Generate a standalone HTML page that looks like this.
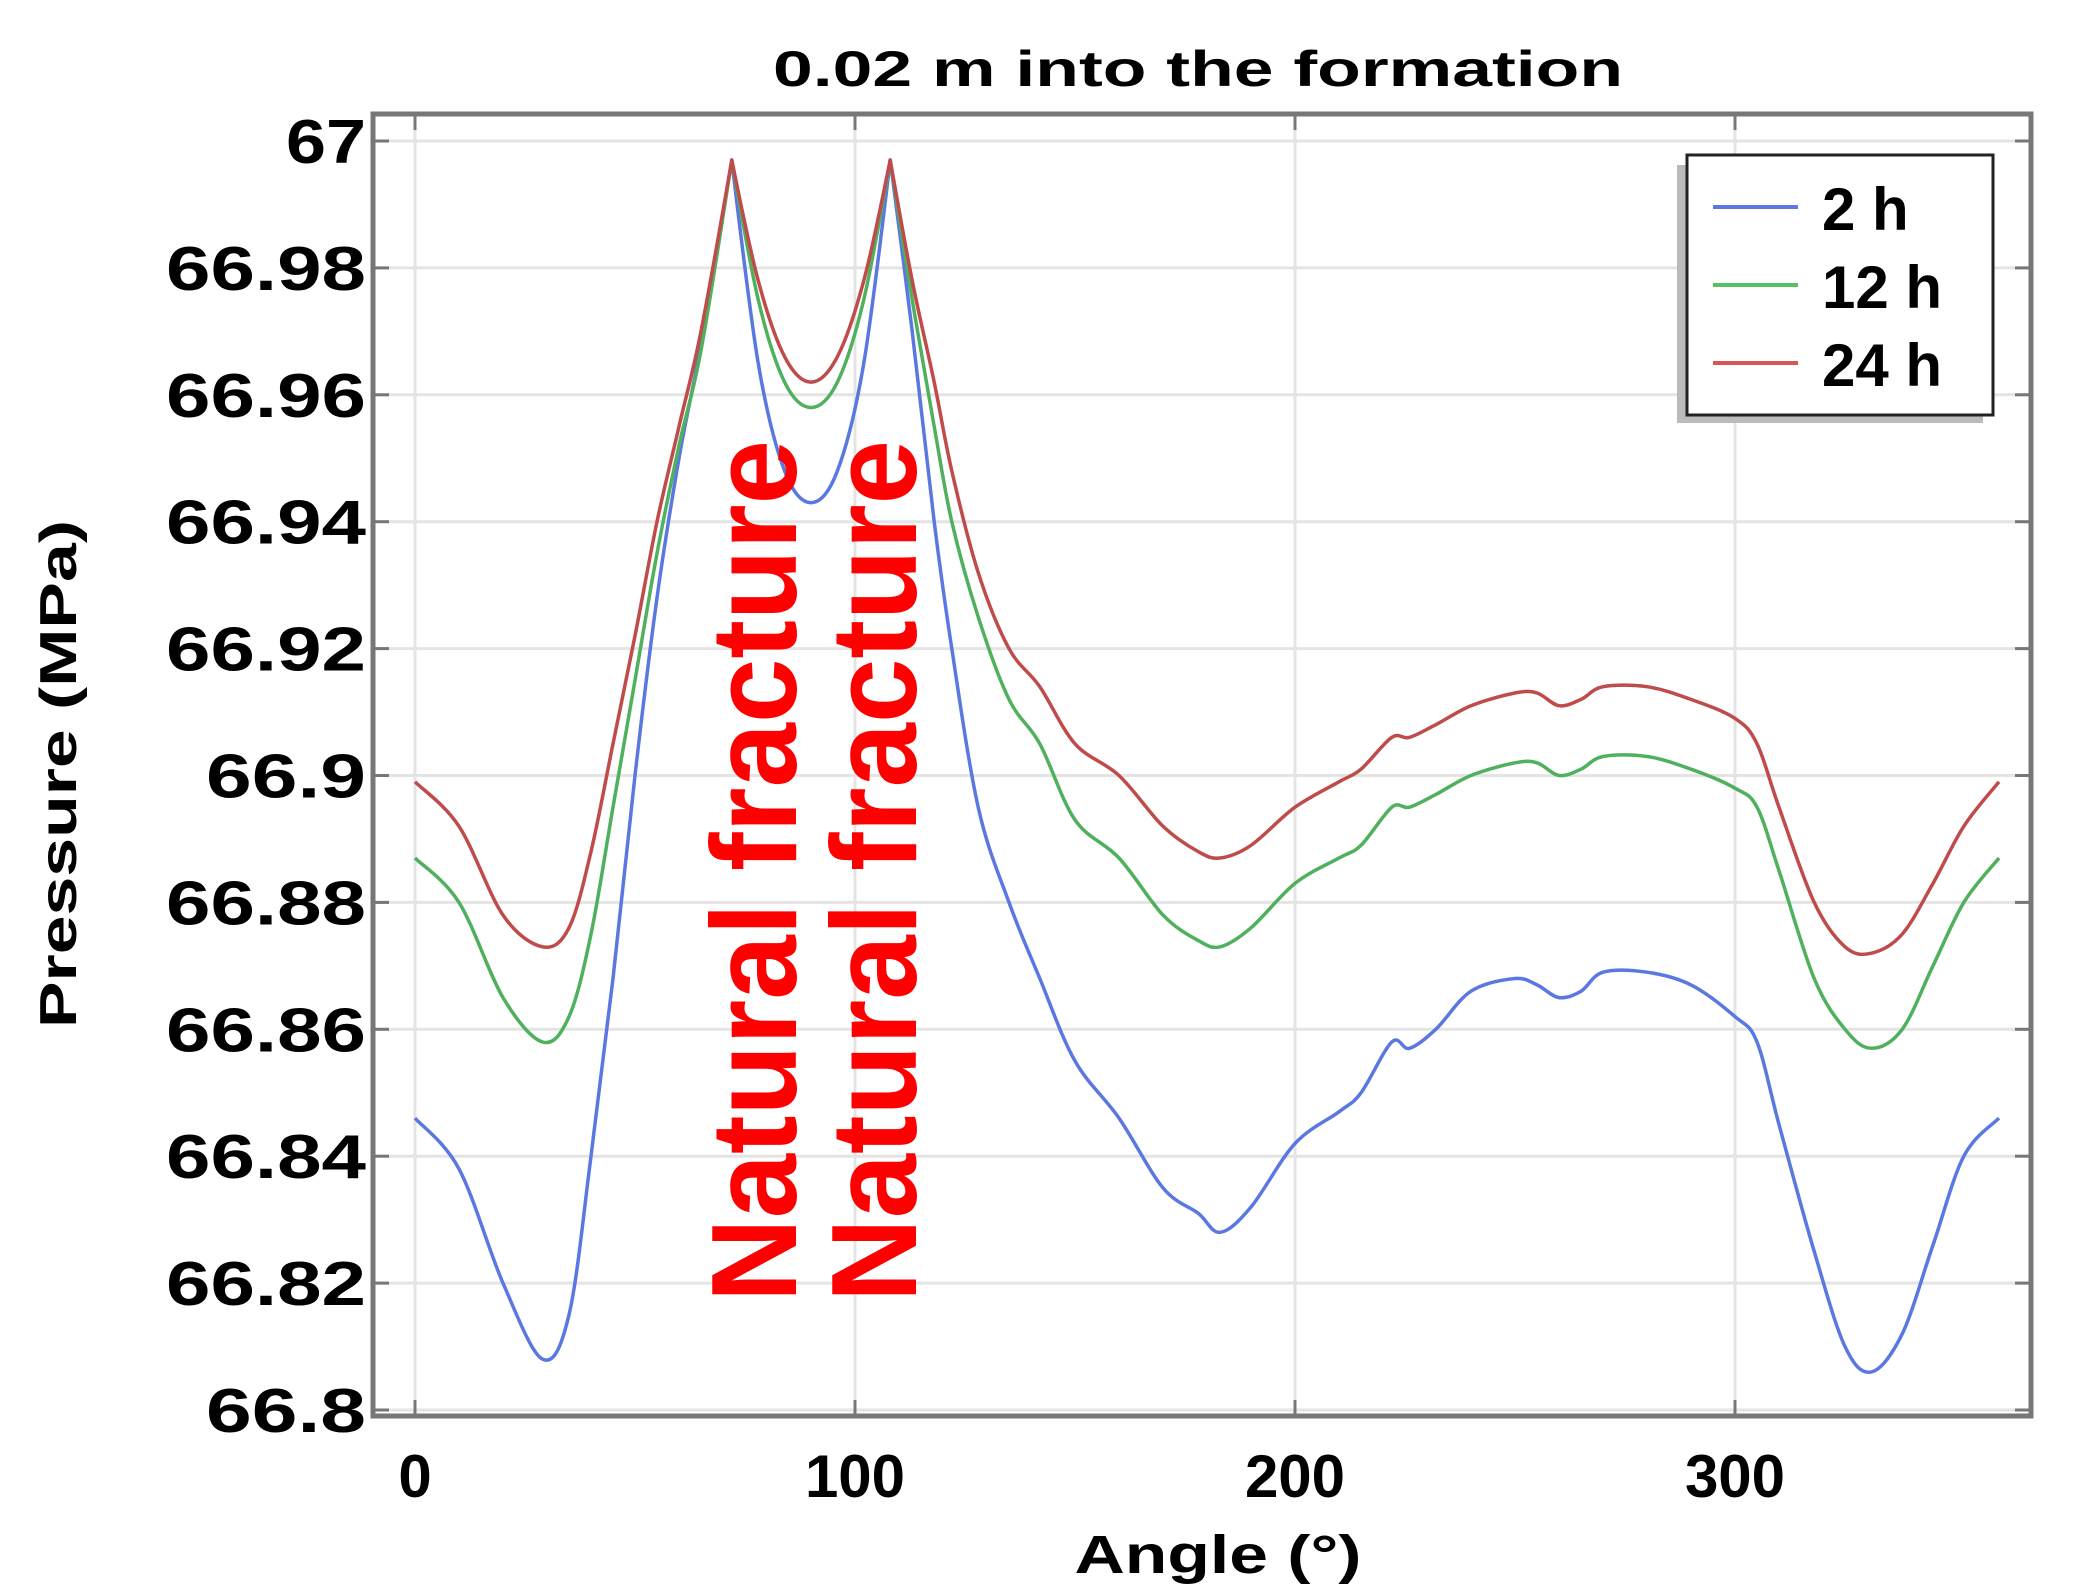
<!DOCTYPE html>
<html><head><meta charset="utf-8"><style>
html,body{margin:0;padding:0;background:#fff;}
svg{display:block;}
text{font-family:"Liberation Sans",Arial,sans-serif;font-weight:bold;}
</style></head><body>
<svg id="chart" width="2073" height="1596" viewBox="0 0 2073 1596" xmlns="http://www.w3.org/2000/svg">
<text x="1198" y="86" font-size="50" text-anchor="middle" textLength="850" lengthAdjust="spacingAndGlyphs">0.02 m into the formation</text>
<g id="grid"></g>
<g id="axes"></g>
<g id="series"></g>
<text transform="translate(796,1302) rotate(-90)" font-size="122" fill="#ff0000" textLength="862" lengthAdjust="spacingAndGlyphs">Natural fracture</text>
<text transform="translate(916,1302) rotate(-90)" font-size="122" fill="#ff0000" textLength="862" lengthAdjust="spacingAndGlyphs">Natural fracture</text>
<text transform="translate(76,774) rotate(-90)" font-size="52" text-anchor="middle" textLength="508" lengthAdjust="spacingAndGlyphs">Pressure (MPa)</text>
<text x="1218" y="1573" font-size="54" text-anchor="middle" textLength="287" lengthAdjust="spacingAndGlyphs">Angle (°)</text>
<g>
<rect x="1677" y="165" width="306" height="258" fill="#bbb"/>
<rect x="1687" y="155" width="306" height="260" fill="#fff" stroke="#222" stroke-width="3"/>
<line x1="1713" y1="207" x2="1798" y2="207" stroke="#5a78e6" stroke-width="4"/>
<line x1="1713" y1="285" x2="1798" y2="285" stroke="#55c065" stroke-width="4"/>
<line x1="1713" y1="363" x2="1798" y2="363" stroke="#d85555" stroke-width="4"/>
<text x="1822" y="230" font-size="60">2 h</text>
<text x="1822" y="308" font-size="60">12 h</text>
<text x="1822" y="386" font-size="60">24 h</text>
</g>
</svg>
<script>
const angles=[0,10,20,29,35,40,45,50,55,60,65,72,78,84,90,96,102,108,113,118,122,128,135,142,150,160,170,178,183,190,200,210,215,222,226,232,240,250,255,260,265,270,280,290,300,305,310,318,325,331,338,345,352,360];
const p2h=[66.846,66.838,66.82,66.808,66.815,66.84,66.868,66.9,66.928,66.95,66.968,66.997,66.965,66.948,66.943,66.948,66.965,66.997,66.97,66.94,66.92,66.895,66.88,66.868,66.855,66.846,66.835,66.831,66.828,66.832,66.842,66.847,66.85,66.858,66.857,66.86,66.866,66.868,66.867,66.865,66.866,66.869,66.869,66.867,66.862,66.858,66.845,66.825,66.81,66.806,66.812,66.826,66.84,66.846];
const p12h=[66.887,66.88,66.865,66.858,66.862,66.875,66.895,66.915,66.935,66.952,66.967,66.997,66.975,66.962,66.958,66.962,66.975,66.997,66.975,66.955,66.94,66.925,66.912,66.905,66.893,66.887,66.878,66.874,66.873,66.876,66.883,66.887,66.889,66.895,66.895,66.897,66.9,66.902,66.902,66.9,66.901,66.903,66.903,66.901,66.898,66.895,66.885,66.868,66.86,66.857,66.86,66.87,66.88,66.887];
const p24h=[66.899,66.892,66.878,66.873,66.876,66.888,66.905,66.922,66.94,66.955,66.97,66.997,66.978,66.966,66.962,66.966,66.978,66.997,66.978,66.962,66.948,66.932,66.92,66.914,66.905,66.9,66.892,66.888,66.887,66.889,66.895,66.899,66.901,66.906,66.906,66.908,66.911,66.913,66.913,66.911,66.912,66.914,66.914,66.912,66.909,66.905,66.895,66.88,66.873,66.872,66.875,66.883,66.892,66.899];
const yTicks=[66.8,66.82,66.84,66.86,66.88,66.9,66.92,66.94,66.96,66.98,67];
const yTickLabels=["66.8","66.82","66.84","66.86","66.88","66.9","66.92","66.94","66.96","66.98","67"];
const xTicks=[0,100,200,300];
const xTickLabels=["0","100","200","300"];

const NS="http://www.w3.org/2000/svg";
const X0=415,XS=4.4,Y0=141,YS=126.9/0.02;
const L=373,T=114,R=2031,B=1416;
function sx(a){return X0+a*XS;}
function sy(v){return Y0+(67-v)*YS;}
function mk(tag,attrs,parent){const e=document.createElementNS(NS,tag);for(const k in attrs)e.setAttribute(k,attrs[k]);parent.appendChild(e);return e;}
const grid=document.getElementById('grid'),axes=document.getElementById('axes'),ser=document.getElementById('series');
yTicks.forEach((v,i)=>{
  const y=sy(v);
  const g=mk('line',{x1:L,y1:y,x2:R,y2:y,stroke:'#e4e4e4','stroke-width':3},grid);
  
  
  mk('line',{x1:L,y1:y,x2:L+16,y2:y,stroke:'#777','stroke-width':3},axes);
  mk('line',{x1:R-16,y1:y,x2:R,y2:y,stroke:'#777','stroke-width':3},axes);
  const lab=yTickLabels[i];
  const t=mk('text',{x:366,y:y+22,'font-size':62,'text-anchor':'end',textLength:lab.length*40,lengthAdjust:'spacingAndGlyphs'},axes);
  t.textContent=lab;
  
  
});
xTicks.forEach((a,i)=>{
  const x=sx(a);
  const g=mk('line',{x1:x,y1:T,x2:x,y2:B,stroke:'#e4e4e4','stroke-width':3},grid);
  
  
  mk('line',{x1:x,y1:B,x2:x,y2:B-16,stroke:'#777','stroke-width':3},axes);
  mk('line',{x1:x,y1:T,x2:x,y2:T+16,stroke:'#777','stroke-width':3},axes);
  const t=mk('text',{x:x,y:1497,'font-size':60,'text-anchor':'middle'},axes);
  t.textContent=xTickLabels[i];
  
  
});
const box=mk('rect',{x:L,y:T,width:R-L,height:B-T,fill:'none',stroke:'#777','stroke-width':5},axes);


function line(vals,color,name){
  const P=angles.map((a,i)=>[sx(a),sy(vals[i])]);
  let d='M'+P[0][0].toFixed(1)+','+P[0][1].toFixed(1);
  for(let i=0;i<P.length-1;i++){
    const p0=P[Math.max(0,i-1)],p1=P[i],p2=P[i+1],p3=P[Math.min(P.length-1,i+2)];
    const sharp1=(angles[i]===72||angles[i]===108),sharp2=(angles[i+1]===72||angles[i+1]===108);
    const k=1/6;
    const c1=sharp1?p1:[p1[0]+(p2[0]-p0[0])*k,p1[1]+(p2[1]-p0[1])*k];
    const c2=sharp2?p2:[p2[0]-(p3[0]-p1[0])*k,p2[1]-(p3[1]-p1[1])*k];
    d+='C'+c1[0].toFixed(1)+','+c1[1].toFixed(1)+' '+c2[0].toFixed(1)+','+c2[1].toFixed(1)+' '+p2[0].toFixed(1)+','+p2[1].toFixed(1);
  }
  const p=mk('path',{d:d,fill:'none',stroke:color,'stroke-width':3.5,'stroke-linejoin':'round'},ser);
  
  
}
line(p2h,'#5a78e0','series-2h');
line(p12h,'#4fb05e','series-12h');
line(p24h,'#bf4b4b','series-24h');
</script>
</body></html>
